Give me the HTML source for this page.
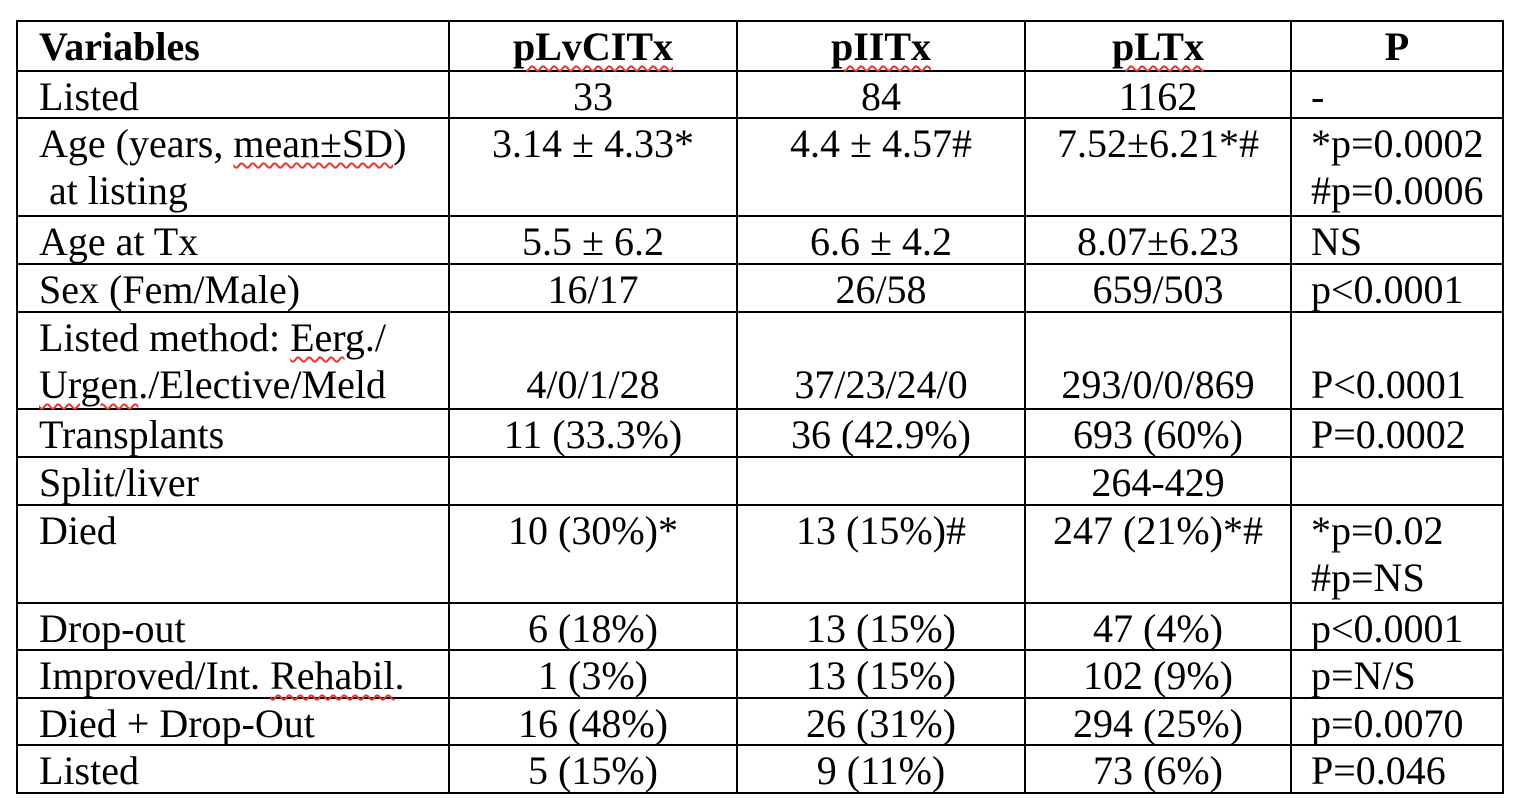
<!DOCTYPE html>
<html>
<head>
<meta charset="utf-8">
<style>
html,body{margin:0;padding:0;background:#fff;}
body{width:1518px;height:808px;position:relative;overflow:hidden;font-family:"Liberation Serif","Times New Roman",serif;font-size:40px;color:#000;}
.h{position:absolute;left:16px;width:1488px;height:2px;background:#000;}
.v{position:absolute;top:20px;height:774px;width:2px;background:#000;}
.t{position:absolute;line-height:47px;white-space:nowrap;margin-top:3px;}
.c0{left:39px;}
.c1{left:449px;width:288px;text-align:center;}
.c2{left:737px;width:288px;text-align:center;}
.c3{left:1025px;width:266px;text-align:center;}
.c4{left:1311px;}
.c4h{left:1291px;width:212px;text-align:center;}
b{font-weight:bold;}
.sp{text-decoration-line:underline;text-decoration-style:wavy;text-decoration-color:#e8382f;text-decoration-thickness:1.5px;text-underline-offset:5px;}
</style>
</head>
<body>
<!-- horizontal lines -->
<div class="h" style="top:20px"></div>
<div class="h" style="top:70px"></div>
<div class="h" style="top:117px"></div>
<div class="h" style="top:215px"></div>
<div class="h" style="top:263px"></div>
<div class="h" style="top:311px"></div>
<div class="h" style="top:408px"></div>
<div class="h" style="top:456px"></div>
<div class="h" style="top:504px"></div>
<div class="h" style="top:602px"></div>
<div class="h" style="top:649px"></div>
<div class="h" style="top:697px"></div>
<div class="h" style="top:744px"></div>
<div class="h" style="top:792px"></div>
<!-- vertical lines -->
<div class="v" style="left:16px"></div>
<div class="v" style="left:448px"></div>
<div class="v" style="left:736px"></div>
<div class="v" style="left:1024px"></div>
<div class="v" style="left:1290px"></div>
<div class="v" style="left:1502px"></div>

<!-- header -->
<div class="t c0" style="top:20px"><b>Variables</b></div>
<div class="t c1" style="top:20px"><b class="sp">pLvCITx</b></div>
<div class="t c2" style="top:20px"><b class="sp">pIITx</b></div>
<div class="t c3" style="top:20px"><b class="sp">pLTx</b></div>
<div class="t c4h" style="top:20px"><b>P</b></div>

<!-- Listed -->
<div class="t c0" style="top:70px">Listed</div>
<div class="t c1" style="top:70px">33</div>
<div class="t c2" style="top:70px">84</div>
<div class="t c3" style="top:70px">1162</div>
<div class="t c4" style="top:70px">-</div>

<!-- Age -->
<div class="t c0" style="top:117px">Age (years, <span class="sp">mean±SD</span>)<br>&nbsp;at listing</div>
<div class="t c1" style="top:117px">3.14 ± 4.33*</div>
<div class="t c2" style="top:117px">4.4 ± 4.57#</div>
<div class="t c3" style="top:117px">7.52±6.21*#</div>
<div class="t c4" style="top:117px">*p=0.0002<br>#p=0.0006</div>

<!-- Age at Tx -->
<div class="t c0" style="top:215px">Age at Tx</div>
<div class="t c1" style="top:215px">5.5 ± 6.2</div>
<div class="t c2" style="top:215px">6.6 ± 4.2</div>
<div class="t c3" style="top:215px">8.07±6.23</div>
<div class="t c4" style="top:215px">NS</div>

<!-- Sex -->
<div class="t c0" style="top:263px">Sex (Fem/Male)</div>
<div class="t c1" style="top:263px">16/17</div>
<div class="t c2" style="top:263px">26/58</div>
<div class="t c3" style="top:263px">659/503</div>
<div class="t c4" style="top:263px">p&lt;0.0001</div>

<!-- Listed method -->
<div class="t c0" style="top:311px">Listed method: <span class="sp">Eerg</span>./<br><span class="sp">Urgen</span>./Elective/Meld</div>
<div class="t c1" style="top:358px">4/0/1/28</div>
<div class="t c2" style="top:358px">37/23/24/0</div>
<div class="t c3" style="top:358px">293/0/0/869</div>
<div class="t c4" style="top:358px">P&lt;0.0001</div>

<!-- Transplants -->
<div class="t c0" style="top:408px">Transplants</div>
<div class="t c1" style="top:408px">11 (33.3%)</div>
<div class="t c2" style="top:408px">36 (42.9%)</div>
<div class="t c3" style="top:408px">693 (60%)</div>
<div class="t c4" style="top:408px">P=0.0002</div>

<!-- Split -->
<div class="t c0" style="top:456px">Split/liver</div>
<div class="t c3" style="top:456px">264-429</div>

<!-- Died -->
<div class="t c0" style="top:504px">Died</div>
<div class="t c1" style="top:504px">10 (30%)*</div>
<div class="t c2" style="top:504px">13 (15%)#</div>
<div class="t c3" style="top:504px">247 (21%)*#</div>
<div class="t c4" style="top:504px">*p=0.02<br>#p=NS</div>

<!-- Drop-out -->
<div class="t c0" style="top:602px">Drop-out</div>
<div class="t c1" style="top:602px">6 (18%)</div>
<div class="t c2" style="top:602px">13 (15%)</div>
<div class="t c3" style="top:602px">47 (4%)</div>
<div class="t c4" style="top:602px">p&lt;0.0001</div>

<!-- Improved -->
<div class="t c0" style="top:649px">Improved/Int. <span class="sp">Rehabil</span>.</div>
<div class="t c1" style="top:649px">1 (3%)</div>
<div class="t c2" style="top:649px">13 (15%)</div>
<div class="t c3" style="top:649px">102 (9%)</div>
<div class="t c4" style="top:649px">p=N/S</div>

<!-- Died + Drop-Out -->
<div class="t c0" style="top:697px">Died + Drop-Out</div>
<div class="t c1" style="top:697px">16 (48%)</div>
<div class="t c2" style="top:697px">26 (31%)</div>
<div class="t c3" style="top:697px">294 (25%)</div>
<div class="t c4" style="top:697px">p=0.0070</div>

<!-- Listed -->
<div class="t c0" style="top:744px">Listed</div>
<div class="t c1" style="top:744px">5 (15%)</div>
<div class="t c2" style="top:744px">9 (11%)</div>
<div class="t c3" style="top:744px">73 (6%)</div>
<div class="t c4" style="top:744px">P=0.046</div>
</body>
</html>
